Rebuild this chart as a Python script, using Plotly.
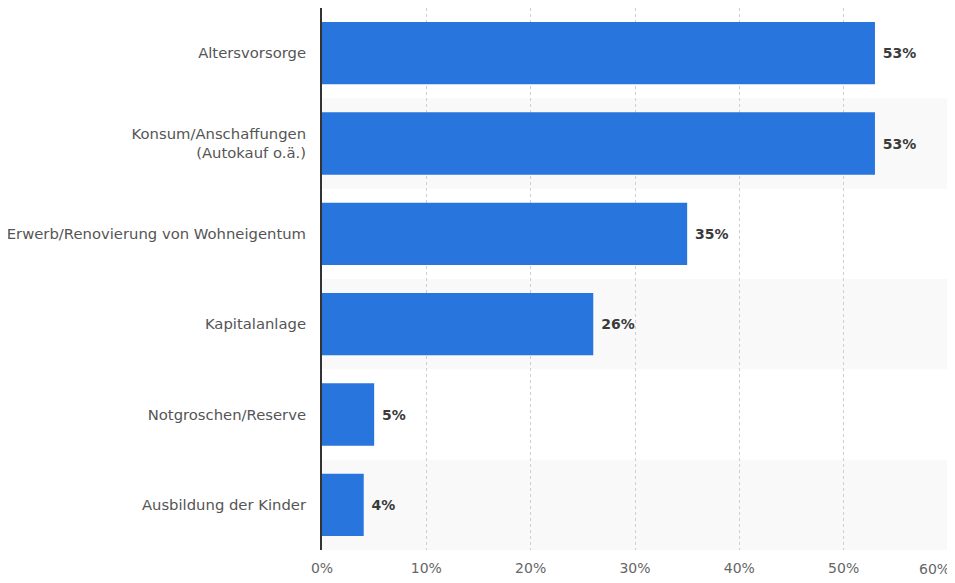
import plotly.graph_objects as go

categories = ["Altersvorsorge", "Konsum/Anschaffungen<br>(Autokauf o.ä.)",
              "Erwerb/Renovierung von Wohneigentum", "Kapitalanlage",
              "Notgroschen/Reserve", "Ausbildung der Kinder"]
values = [53, 53, 35, 26, 5, 4]
labels = [f"{v}%" for v in values]
tick_vals = [0, 10, 20, 30, 40, 50, 60]
tick_text = [f"{t}%" for t in tick_vals]

FONT = "DejaVu Sans"

fig = go.Figure()
fig.add_trace(go.Bar(
    x=values, y=categories, orientation="h",
    marker=dict(color="#2876dd", line=dict(width=0)),
    width=0.69,
    text=labels, texttemplate=" %{text}", textposition="outside", cliponaxis=False,
    textfont=dict(family=FONT, size=14, color="#3a3a3a", weight=600),
    hoverinfo="skip",
))

shapes = []
for i in range(len(categories)):
    if i % 2 == 1:
        shapes.append(dict(type="rect", xref="paper", yref="y", x0=0, x1=1,
                           y0=i - 0.5, y1=i + 0.5, fillcolor="#f9f9f9",
                           line=dict(width=0), layer="below"))

# page has an 8px body margin, so the figure is sized to fit the window
fig.update_layout(
    width=947, height=575,
    margin=dict(l=314, r=7, t=0, b=33),
    paper_bgcolor="white", plot_bgcolor="white",
    shapes=shapes, showlegend=False,
    font=dict(family=FONT, color="#555555"),
)
# last tick label kept inside the page, right-aligned near the final gridline
fig.add_annotation(x=tick_vals[-1], xref="x", y=0, yref="paper", yanchor="top",
                   xanchor="right", xshift=3, yshift=-10, showarrow=False,
                   borderpad=0,
                   text=tick_text[-1], font=dict(family=FONT, size=14, color="#666666"))
fig.update_xaxes(range=[0, 60], tickvals=tick_vals,
                 ticktext=tick_text[:-1] + [""],
                 showgrid=True, gridcolor="#cfcfcf", griddash="dot", gridwidth=1,
                 zeroline=False, showline=False, automargin=False,
                 tickfont=dict(size=14, color="#666666"), ticklabelstandoff=8)
fig.update_yaxes(categoryorder="array", categoryarray=categories,
                 range=[5.5, -0.5], automargin=False,
                 showline=True, linecolor="#333333", linewidth=2, showgrid=False,
                 tickfont=dict(size=14.8, color="#555555"), ticklabelstandoff=11)

fig.write_html("out.html")
